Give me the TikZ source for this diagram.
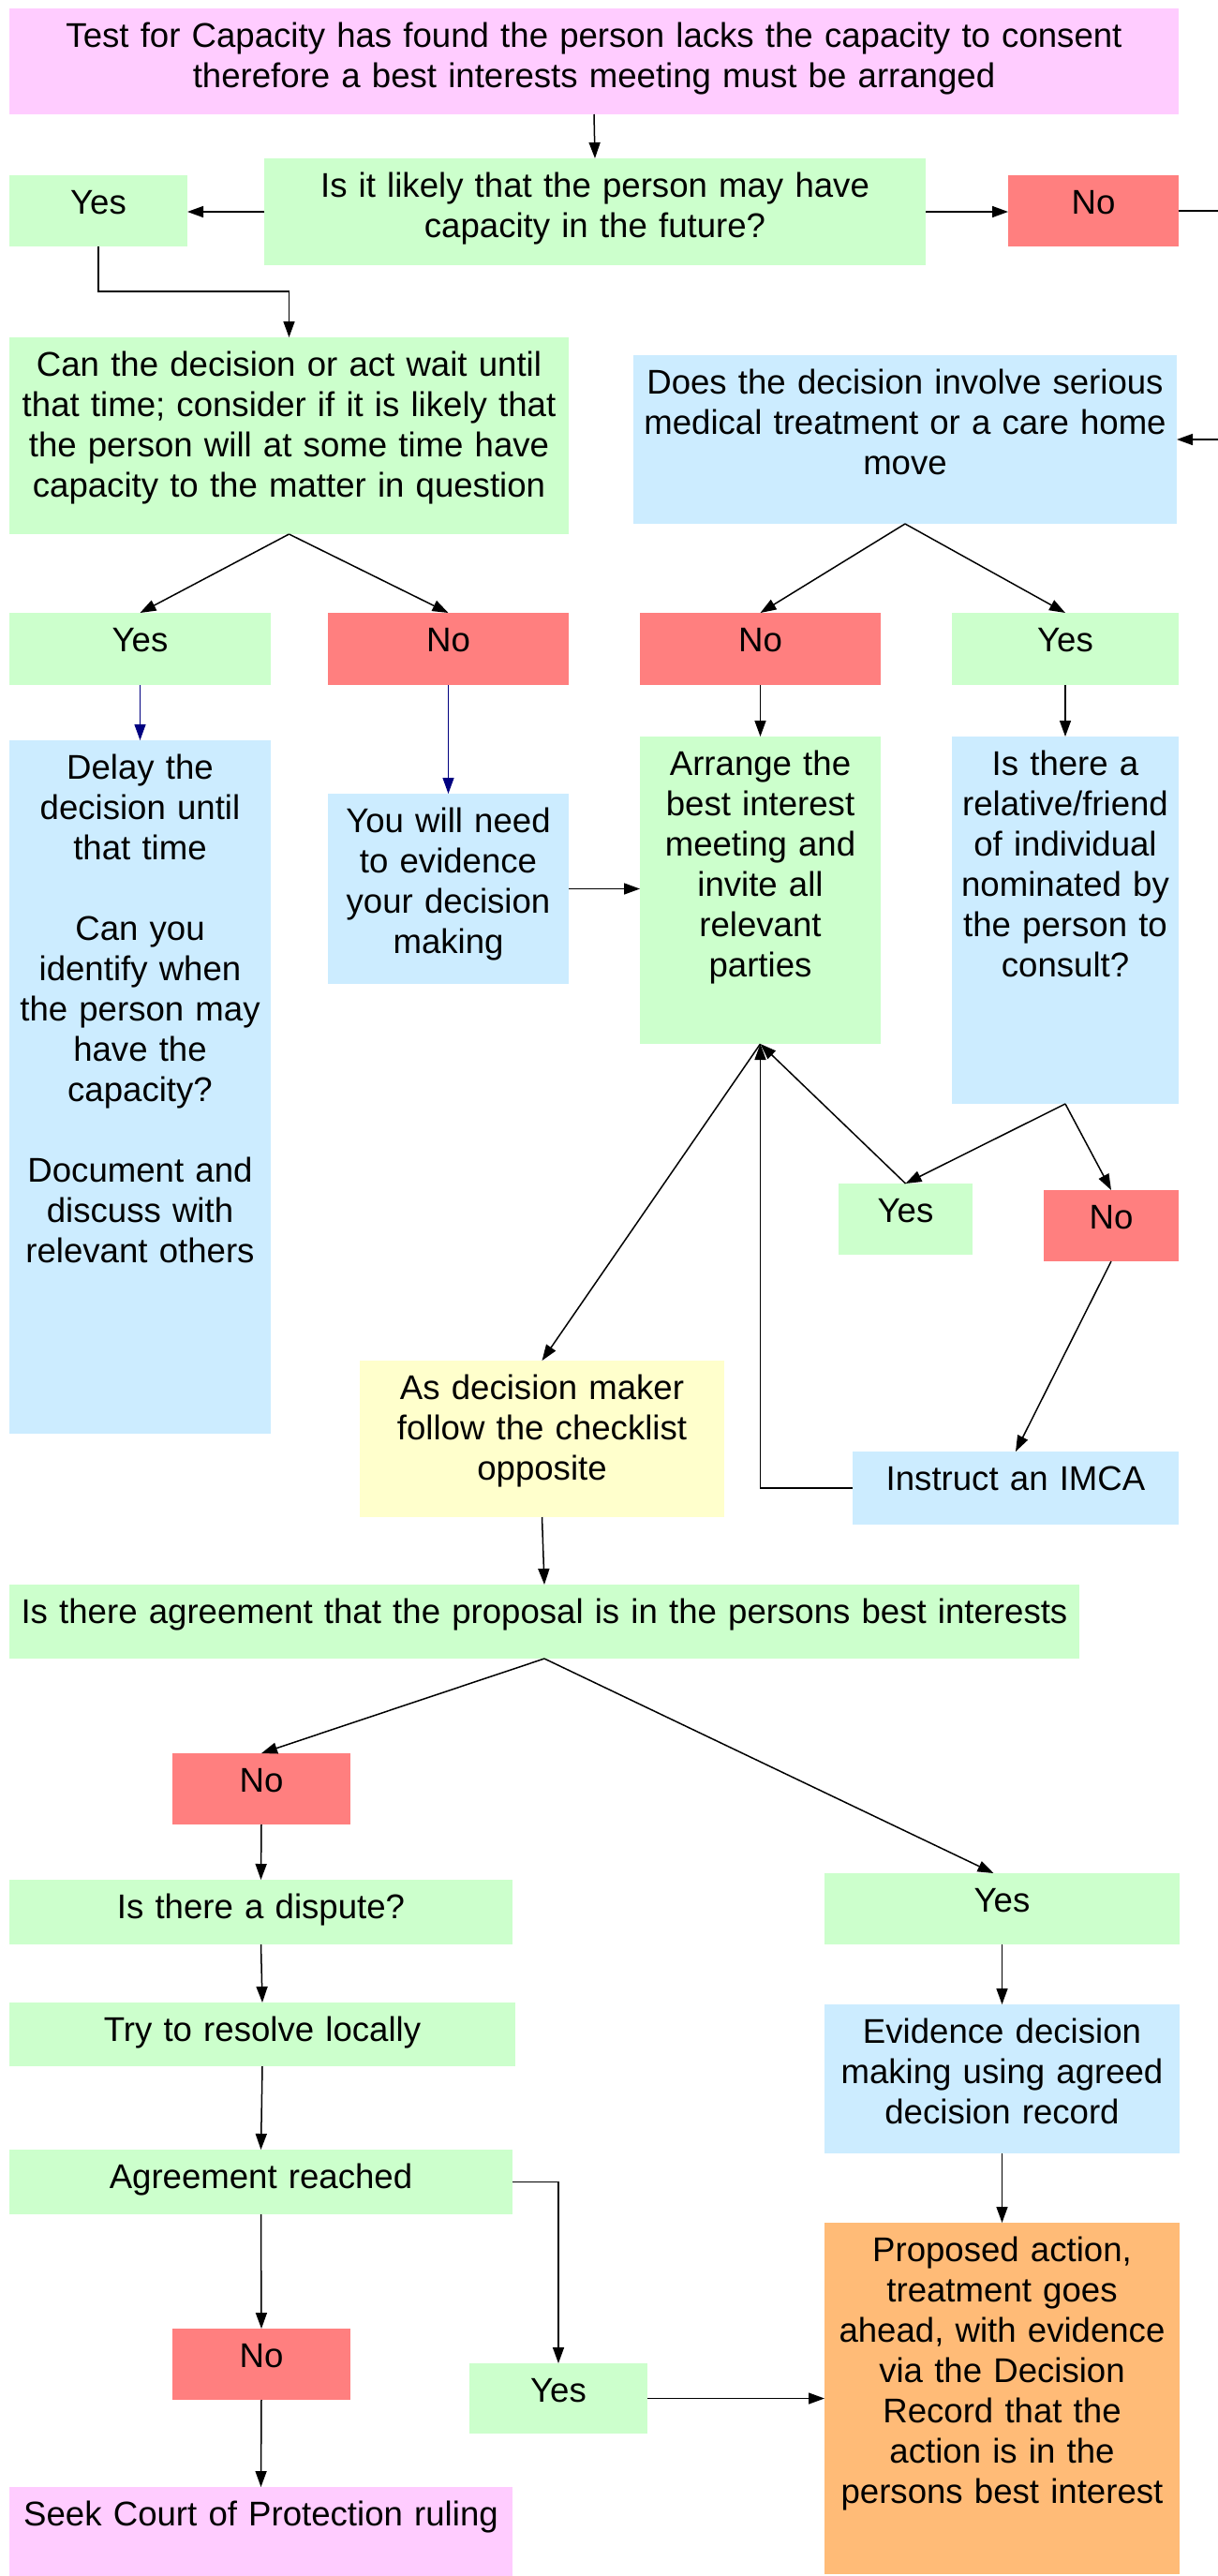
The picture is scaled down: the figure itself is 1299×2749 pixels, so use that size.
\documentclass[tikz,border=0pt]{standalone}
\usepackage{fontspec}
\setmainfont{Liberation Sans}
\usetikzlibrary{arrows.meta}
\definecolor{cgreen}{HTML}{CCFFCC}
\definecolor{cred}{HTML}{FF7F7F}
\definecolor{cblue}{HTML}{CCECFF}
\definecolor{cpink}{HTML}{FFCCFF}
\definecolor{cyellow}{HTML}{FFFFCC}
\definecolor{corange}{HTML}{FFBB77}
\definecolor{cnavy}{HTML}{000080}
\newcommand{\fbx}[7]{%
  \pgfmathsetmacro{\fbxw}{#4-#2}\pgfmathsetmacro{\fbxh}{#5-#3}%
  \node[boxst, fill=#6, minimum width=\fbxw pt, minimum height=\fbxh pt] (#1) at ({(#2+#4)/2},{(#3+#5)/2}) {};
  \node[txtst, text width=\fbxw pt] (#1-t) at ([yshift=-11.4pt]#1.north) {\strut #7};
}
\begin{document}
\begin{tikzpicture}[x=1pt,y=-1pt,
  boxst/.style={rectangle, draw=none, inner sep=0pt, outer sep=0pt},
  txtst/.style={anchor=north, inner sep=0pt, align=center, font=\fontsize{36.6}{43}\selectfont},
  arr/.style={-{Triangle[length=17pt,width=12pt]}, line width=1.5pt, black},
  narr/.style={-{Triangle[length=17pt,width=12pt]}, line width=1.3pt, cnavy},
  ln/.style={line width=1.5pt, black}]
\fill[white] (0,0) rectangle (1299,2749);
\useasboundingbox (0,0) rectangle (1299,2749);

\fbx{ntop}{10}{9}{1258}{122}{cpink}{Test for Capacity has found the person lacks the capacity to consent\\therefore a best interests meeting must be arranged}
\fbx{q1}{282}{169}{988}{283}{cgreen}{Is it likely that the person may have\\capacity in the future?}
\fbx{yes1}{10}{187}{200}{263}{cgreen}{Yes}
\fbx{no1}{1076}{187}{1258}{263}{cred}{No}
\fbx{can}{10}{360}{607}{570}{cgreen}{Can the decision or act wait until\\that time; consider if it is likely that\\the person will at some time have\\capacity to the matter in question}
\fbx{does}{676}{379}{1256}{559}{cblue}{Does the decision involve serious\\medical treatment or a care home\\move}
\fbx{yes2}{10}{654}{289}{731}{cgreen}{Yes}
\fbx{no2}{350}{654}{607}{731}{cred}{No}
\fbx{no3}{683}{654}{940}{731}{cred}{No}
\fbx{yes3}{1016}{654}{1258}{731}{cgreen}{Yes}
\fbx{delay}{10}{790}{289}{1530}{cblue}{Delay the\\decision until\\that time\\[43pt]Can you\\identify when\\the person may\\have the\\capacity?\\[43pt]Document and\\discuss with\\relevant others}
\fbx{you}{350}{847}{607}{1050}{cblue}{You will need\\to evidence\\your decision\\making}
\fbx{arrange}{683}{786}{940}{1114}{cgreen}{Arrange the\\best interest\\meeting and\\invite all\\relevant\\parties}
\fbx{rel}{1016}{786}{1258}{1178}{cblue}{Is there a\\relative/friend\\of individual\\nominated by\\the person to\\consult?}
\fbx{yes4}{895}{1263}{1038}{1339}{cgreen}{Yes}
\fbx{no4}{1114}{1270}{1258}{1346}{cred}{No}
\fbx{asd}{384}{1452}{773}{1619}{cyellow}{As decision maker\\follow the checklist\\opposite}
\fbx{imca}{910}{1549}{1258}{1627}{cblue}{Instruct an IMCA}
\fbx{agq}{10}{1691}{1152}{1770}{cgreen}{Is there agreement that the proposal is in the persons best interests}
\fbx{no5}{184}{1871}{374}{1947}{cred}{No}
\fbx{disp}{10}{2006}{547}{2075}{cgreen}{Is there a dispute?}
\fbx{yes5}{880}{1999}{1259}{2075}{cgreen}{Yes}
\fbx{try}{10}{2137}{550}{2205}{cgreen}{Try to resolve locally}
\fbx{evid}{880}{2139}{1259}{2298}{cblue}{Evidence decision\\making using agreed\\decision record}
\fbx{agr}{10}{2294}{547}{2363}{cgreen}{Agreement reached}
\fbx{no6}{184}{2485}{374}{2561}{cred}{No}
\fbx{yes6}{501}{2522}{691}{2597}{cgreen}{Yes}
\fbx{seek}{10}{2654}{547}{2749}{cpink}{Seek Court of Protection ruling}
\fbx{prop}{880}{2372}{1259}{2747}{corange}{Proposed action,\\treatment goes\\ahead, with evidence\\via the Decision\\Record that the\\action is in the\\persons best interest}

\coordinate (offp) at (1340,225);
\draw[arr] (ntop.south) -- (q1.north);
\draw[arr] (q1.west) -- (q1.west -| yes1.east);
\draw[arr] (q1.east) -- (q1.east -| no1.west);
\draw[arr] (no1.east) -- (offp) |- (does.east);
\draw[arr] (yes1.south) -- ++(0,48) -| (can.north);
\draw[arr] (can.south) -- (yes2.north);
\draw[arr] (can.south) -- (no2.north);
\draw[arr] (does.south) -- (no3.north);
\draw[arr] (does.south) -- (yes3.north);
\draw[narr] (yes2.south) -- (delay.north);
\draw[narr] (no2.south) -- (you.north);
\draw[arr] (you.east) -- (you.east -| arrange.west);
\draw[arr] (no3.south) -- (arrange.north);
\draw[arr] (yes3.south) -- (rel.north);
\draw[arr] (rel.south) -- (yes4.north);
\draw[arr] (rel.south) -- (no4.north);
\draw[arr] (yes4.north) -- (arrange.south);
\draw[arr] (no4.south) -- (imca.north);
\draw[arr] (imca.west) -| (arrange.south);
\draw[arr] (arrange.south) -- (asd.north);
\draw[arr] (asd.south) -- (agq.north);
\draw[arr] (agq.south) -- (no5.north);
\draw[arr] (agq.south) -- ([xshift=-9pt]yes5.north);
\draw[arr] (no5.south) -- (disp.north);
\draw[arr] (disp.south) -- (try.north);
\draw[arr] (try.south) -- (agr.north);
\draw[arr] (yes5.south) -- (evid.north);
\draw[arr] (evid.south) -- (prop.north);
\draw[arr] (agr.east) -| (yes6.north);
\draw[arr] (agr.south) -- (no6.north);
\draw[arr] (no6.south) -- (seek.north);
\draw[arr] (yes6.east) -- (yes6.east -| prop.west);
\end{tikzpicture}
\end{document}
